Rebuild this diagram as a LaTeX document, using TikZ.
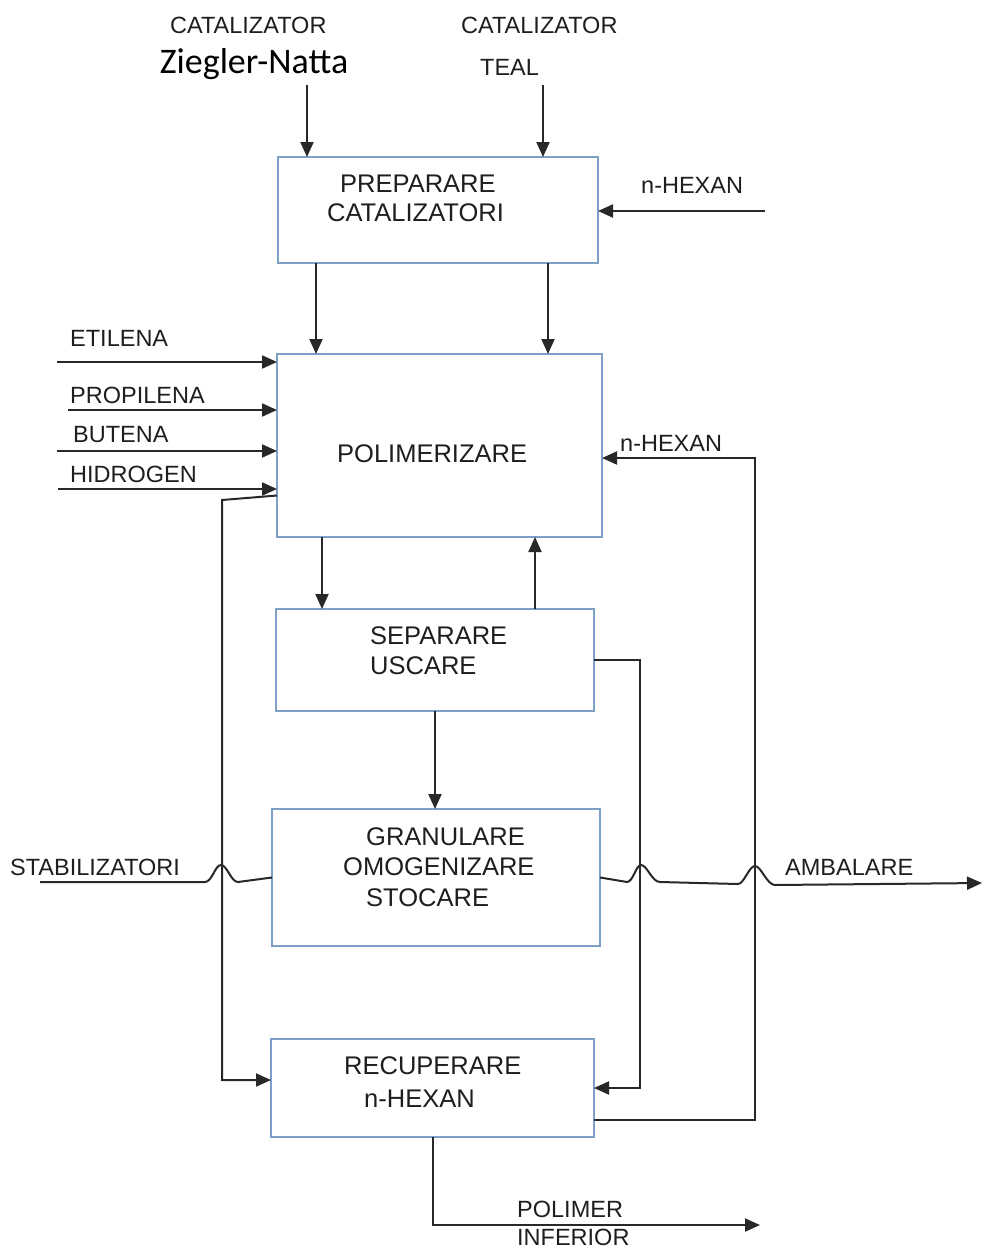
\documentclass[tikz,border=0pt]{standalone}
\usepackage{fontspec}
\setmainfont{Liberation Sans}
\newfontfamily\carl{Carlito}
\usetikzlibrary{arrows.meta}
\definecolor{boxc}{RGB}{125,160,200}
\definecolor{linec}{RGB}{40,40,40}
\definecolor{txtc}{RGB}{30,30,30}
\begin{document}
\begin{tikzpicture}[x=1pt,y=-1pt,
  blk/.style={draw=boxc, line width=1.6pt, inner sep=0pt, outer sep=0pt},
  flow/.style={draw=linec, line width=2pt},
  arr/.style={flow, -{Triangle[length=15pt,width=13pt]}},
  lbl/.style={inner sep=0pt, anchor=west, text=txtc, font=\fontsize{23.5}{28}\selectfont},
  btxt/.style={inner sep=0pt, anchor=west, text=txtc, font=\fontsize{25.5}{30}\selectfont},
]
\useasboundingbox (0,0) rectangle (983,1250);

% boxes
\node[blk, minimum width=320pt, minimum height=106pt] (prep) at (438,210) {};
\node[blk, minimum width=325pt, minimum height=183pt] (pol) at (439.5,445.5) {};
\node[blk, minimum width=318pt, minimum height=102pt] (sep) at (435,660) {};
\node[blk, minimum width=328pt, minimum height=137pt] (gran) at (436,877.5) {};
\node[blk, minimum width=323pt, minimum height=98pt] (rec) at (432.5,1088) {};

% box texts
\node[btxt] (t1) at (340,184) {PREPARARE};
\node[btxt] (t2) at (327,213) {CATALIZATORI};
\node[btxt] (t3) at (337,454) {POLIMERIZARE};
\node[btxt] (t4) at (370,636) {SEPARARE};
\node[btxt] (t5) at (370,666) {USCARE};
\node[btxt] (t6) at (366,837) {GRANULARE};
\node[btxt] (t7) at (343,867) {OMOGENIZARE};
\node[btxt] (t8) at (366,898) {STOCARE};
\node[btxt] (t9) at (344,1066) {RECUPERARE};
\node[btxt] (t10) at (364,1099) {n-HEXAN};

% labels
\node[lbl] (l1) at (170,25) {CATALIZATOR};
\node[inner sep=0pt, anchor=base, text=black, font=\carl\fontsize{36}{42}\selectfont] (l2) at (254,73) {Ziegler-Natta};
\node[lbl] (l3) at (461,25) {CATALIZATOR};
\node[lbl] (l4) at (480,67) {TEAL};
\node[lbl] (l5) at (641,185) {n-HEXAN};
\node[lbl] (l6) at (70,338) {ETILENA};
\node[lbl] (l7) at (70,395) {PROPILENA};
\node[lbl] (l8) at (73,435) {BUTENA};
\node[lbl] (l9) at (70,474) {HIDROGEN};
\node[lbl] (l10) at (620,443) {n-HEXAN};
\node[lbl] (l11) at (10,867) {STABILIZATORI};
\node[lbl] (l12) at (785,867) {AMBALARE};
\node[lbl] (l13) at (517,1209) {POLIMER};
\node[lbl] (l14) at (517,1237) {INFERIOR};

% coordinates
\coordinate (zn) at (307,85);
\coordinate (tl) at (543,85);
\coordinate (hx) at (765,211);
\coordinate (e1) at (57,362);
\coordinate (p1) at (68,410);
\coordinate (b1) at (57,451);
\coordinate (h1) at (58,489);
\coordinate (r1) at (222,500);
\coordinate (r2) at (222,1080);
\coordinate (s1) at (640,1088);
\coordinate (v1) at (755,458);
\coordinate (pi) at (760,1225);
\coordinate (st) at (40,882);
\coordinate (amb) at (982,883);

% connectors
\draw[arr] (zn) -- (zn |- prep.north);
\draw[arr] (tl) -- (tl |- prep.north);
\draw[arr] (hx) -- (hx -| prep.east);
\draw[arr] ([xshift=-122pt]prep.south) -- ([xshift=-122pt]prep.south |- pol.north);
\draw[arr] ([xshift=110pt]prep.south) -- ([xshift=110pt]prep.south |- pol.north);
\draw[arr] (e1) -- (e1 -| pol.west);
\draw[arr] (p1) -- (p1 -| pol.west);
\draw[arr] (b1) -- (b1 -| pol.west);
\draw[arr] (h1) -- (h1 -| pol.west);
\draw[arr] ([yshift=-50pt]pol.west) -- (r1) -- (r2) -- (r2 -| rec.west);
\draw[arr] ([xshift=-117.5pt]pol.south) -- ([xshift=-117.5pt]pol.south |- sep.north);
\draw[arr] ([xshift=100pt]sep.north) -- ([xshift=100pt]sep.north |- pol.south);
\draw[arr] (sep.east) -| (s1) -- (rec.east);
\draw[arr] (sep.south) -- (sep.south |- gran.north);
\draw[arr] ([yshift=-32pt]rec.east) -| (v1) -- (v1 -| pol.east);
\draw[arr] (rec.south) |- (pi);
\draw[flow] (st) -- (205,882) .. controls (212,882) and (215,865) .. (221,865) .. controls (227,865) and (231,882) .. (238,882) -- (gran.west);
\draw[arr] (gran.east) -- (627,882) .. controls (633,882) and (636,865) .. (641,865) .. controls (647,865) and (652,882) .. (660,882) -- (738,884) .. controls (744,884) and (749,866) .. (755,866) .. controls (761,866) and (767,885) .. (775,885) -- (amb);
\end{tikzpicture}
\end{document}
